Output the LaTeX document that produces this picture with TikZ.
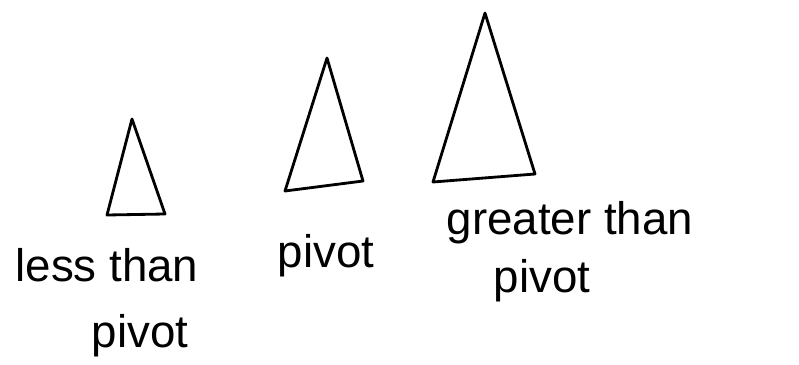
\documentclass[tikz,border=0pt]{standalone}
\usepackage{fontspec}
\setmainfont{Liberation Sans}
\usepackage{tikz}
\usetikzlibrary{positioning}

\begin{document}
\begin{tikzpicture}[x=0.02cm, y=-0.02cm,
  part/.style={draw=black, line width=1.6pt, line join=round, line cap=round},
  word/.style={anchor=base, inner sep=0pt, font=\fontsize{26}{30}\selectfont}
]
\useasboundingbox (0,0) rectangle (799,365);

% Triangles: left part, pivot, right part
\draw[part] (132,119) -- (107,215) -- (165,214) -- cycle;
\draw[part] (327,58) -- (285,191) -- (363,181) -- cycle;
\draw[part] (485,13) -- (433,182) -- (535,174) -- cycle;

% Labels
\node[word] (lessthan) at (107,281) {less than};
\node[word] (lesspivot) at (140,347) {pivot};
\node[word] (pivot) at (326,267) {pivot};
\node[word] (greaterthan) at (570,234) {greater than};
\node[word] (greaterpivot) at (542,292) {pivot};

\end{tikzpicture}
\end{document}
